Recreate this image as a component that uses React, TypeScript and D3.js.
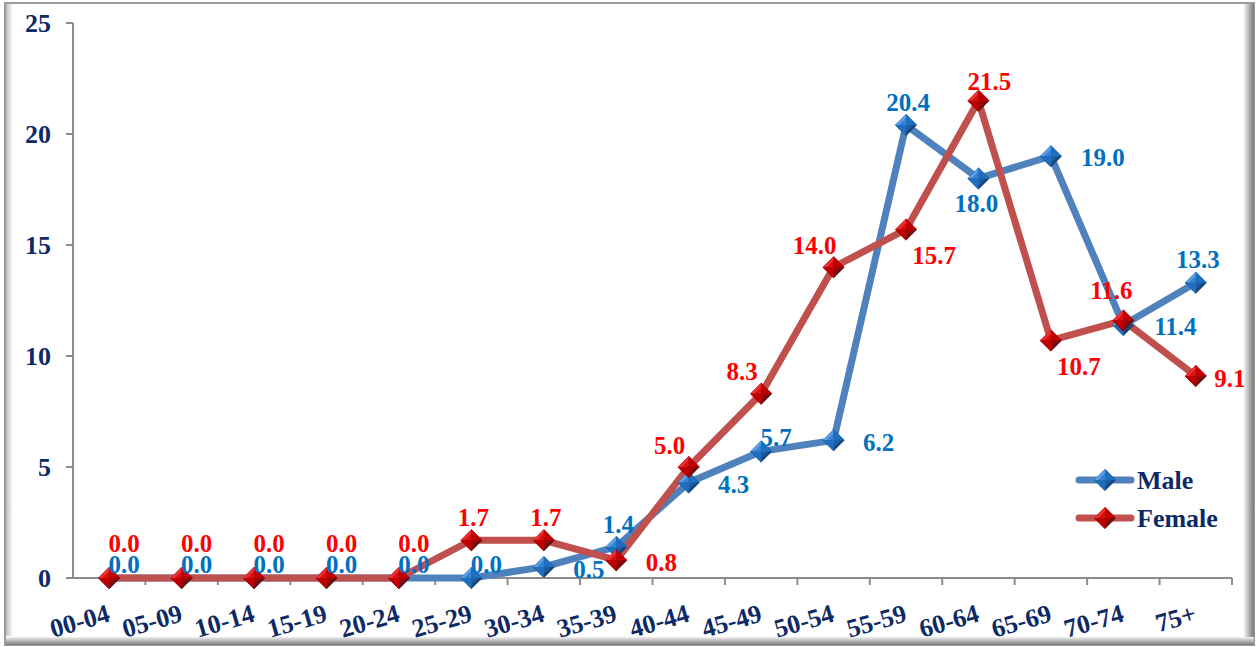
import React from 'react';
import * as d3 from 'd3';

const ageGroups = ['00-04', '05-09', '10-14', '15-19', '20-24', '25-29', '30-34', '35-39', '40-44', '45-49', '50-54', '55-59', '60-64', '65-69', '70-74', '75+'];
const maleValues = [0, 0, 0, 0, 0, 0, 0.5, 1.4, 4.3, 5.7, 6.2, 20.4, 18.0, 19.0, 11.4, 13.3];
const femaleValues = [0, 0, 0, 0, 0, 1.7, 1.7, 0.8, 5.0, 8.3, 14.0, 15.7, 21.5, 10.7, 11.6, 9.1];
const yTicks = [0, 5, 10, 15, 20, 25];

// where each data label sits relative to its point
const maleLabelPos = ['ar', 'ar', 'ar', 'ar', 'ar', 'ar', 'r', 'a', 'r', 'ar', 'r', 'a', 'b', 'rr', 'rr', 'a'];
const femaleLabelPos = ['aa', 'aa', 'aa', 'aa', 'aa', 'a', 'a', 'r', 'al', 'al', 'al', 'br', 'at', 'br', 'al2', 'rs'];

const W = 1260;
const H = 647;
const margin = { top: 23, left: 73 };

const offsets: Record<string, [number, number]> = {
  ar: [15, -14],
  aa: [15, -35],
  a: [2, -23],
  at: [11, -19],
  r: [45, 2],
  rr: [52, 1],
  rs: [34, 2],
  b: [-2, 25],
  al: [-19, -22],
  al2: [-12, -30],
  br: [28, 26],
};

function Diamond({ x, y, base, light, dark }: { x: number; y: number; base: string; light: string; dark: string }) {
  const s = 11;
  return (
    <g transform={`translate(${x},${y})`}>
      <path d={`M0,${-s}L${s},0L0,${s}L${-s},0Z`} fill={dark} />
      <path d={`M0,${-s}L0,0L${-s},0Z`} fill={light} />
      <path d={`M0,${-s}L${s},0L0,0Z`} fill={base} />
      <path d={`M${-s},0L0,0L0,${s}Z`} fill={base} />
      <path d={`M0,${-s + 4}L${s - 4},0L0,${s - 4}L${-s + 4},0Z`} fill={base} opacity={0.6} />
    </g>
  );
}

export default function App() {
  const x = d3.scaleBand<string>().domain(ageGroups).range([margin.left, 1232]);
  const y = d3.scaleLinear().domain([0, 25]).range([578, margin.top]);
  const cx = (d: string) => (x(d) as number) + x.bandwidth() / 2;

  const line = d3.line<number>()
    .x((_, i) => cx(ageGroups[i]))
    .y((d) => y(d));

  const series = [
    { name: 'Male', values: maleValues, pos: maleLabelPos, stroke: '#4F81BD', text: '#0070C0', base: '#1F6FC0', light: '#5AA0E8', dark: '#17467A' },
    { name: 'Female', values: femaleValues, pos: femaleLabelPos, stroke: '#C0504D', text: '#FF0000', base: '#C00000', light: '#F03030', dark: '#6A1010' },
  ];

  const fontFam = '"Liberation Serif", "Times New Roman", serif';

  return (
    <svg width={W} height={H} style={{ position: 'absolute', left: 0, top: 0, background: '#fff' }}>
      <defs>
        <linearGradient id="lf" x1="0" x2="1" y1="0" y2="0">
          <stop offset="0" stopColor="#bdbdbd" />
          <stop offset="1" stopColor="#fff" />
        </linearGradient>
        <linearGradient id="rt" x1="0" x2="1" y1="0" y2="0">
          <stop offset="0" stopColor="#f2f2f2" />
          <stop offset="0.6" stopColor="#a8a8a8" />
          <stop offset="1" stopColor="#7a7a7a" />
        </linearGradient>
        <linearGradient id="bt" x1="0" x2="0" y1="0" y2="1">
          <stop offset="0" stopColor="#f2f2f2" />
          <stop offset="0.6" stopColor="#a8a8a8" />
          <stop offset="1" stopColor="#7a7a7a" />
        </linearGradient>
      </defs>
      {/* frame */}
      <rect x={5} y={3} width={1249} height={642} fill="#fff" stroke="#9a9a9a" strokeWidth={2} />
      <rect x={6} y={4} width={7} height={632} fill="url(#lf)" />
      <rect x={1244} y={4} width={10} height={641} fill="url(#rt)" />
      <rect x={6} y={637} width={1248} height={8} fill="url(#bt)" />

      {/* y axis */}
      <line x1={margin.left} x2={margin.left} y1={y(25)} y2={y(0)} stroke="#8c8c8c" strokeWidth={2} />
      {yTicks.map((t) => (
        <g key={t}>
          <line x1={margin.left - 7} x2={margin.left} y1={y(t)} y2={y(t)} stroke="#8c8c8c" strokeWidth={2} />
          <text x={51} y={y(t)} dy="0.35em" textAnchor="end" fontFamily={fontFam} fontWeight="bold" fontSize={26} fill="#0E2A66">{t}</text>
        </g>
      ))}

      {/* x axis */}
      <line x1={margin.left} x2={1232} y1={y(0)} y2={y(0)} stroke="#8c8c8c" strokeWidth={2} />
      {ageGroups.map((g) => (
        <line key={'t' + g} x1={(x(g) as number) + x.bandwidth()} x2={(x(g) as number) + x.bandwidth()} y1={y(0)} y2={y(0) + 7} stroke="#8c8c8c" strokeWidth={2} />
      ))}
      {ageGroups.map((g) => (
        <text key={'l' + g} transform={`translate(${cx(g) + 2},${y(0) + 43}) rotate(-16)`} textAnchor="end" fontFamily={fontFam} fontWeight="bold" fontSize={26} fill="#0E2A66">{g}</text>
      ))}

      {/* lines */}
      {series.map((s) => (
        <path key={'p' + s.name} d={line(s.values) as string} fill="none" stroke={s.stroke} strokeWidth={7} strokeLinejoin="round" />
      ))}
      {series.map((s) => (
        <g key={'m' + s.name}>
          {s.values.map((v, i) => (
            <Diamond key={i} x={cx(ageGroups[i])} y={y(v)} base={s.base} light={s.light} dark={s.dark} />
          ))}
        </g>
      ))}
      {series.map((s) => (
        <g key={'d' + s.name}>
          {s.values.map((v, i) => {
            const [dx, dy] = offsets[s.pos[i]];
            return (
              <text key={i} x={cx(ageGroups[i]) + dx} y={y(v) + dy} dy="0.35em" textAnchor="middle" fontFamily={fontFam} fontWeight="bold" fontSize={25} fill={s.text}>{v.toFixed(1)}</text>
            );
          })}
        </g>
      ))}

      {/* legend */}
      {series.map((s, i) => (
        <g key={'lg' + s.name} transform={`translate(0,${480 + i * 38})`}>
          <line x1={1079} x2={1131} y1={0} y2={0} stroke={s.stroke} strokeWidth={7} strokeLinecap="round" />
          <Diamond x={1105} y={0} base={s.base} light={s.light} dark={s.dark} />
          <text x={1137} y={0} dy="0.35em" fontFamily={fontFam} fontWeight="bold" fontSize={26} fill="#0E2A66">{s.name}</text>
        </g>
      ))}
    </svg>
  );
}
